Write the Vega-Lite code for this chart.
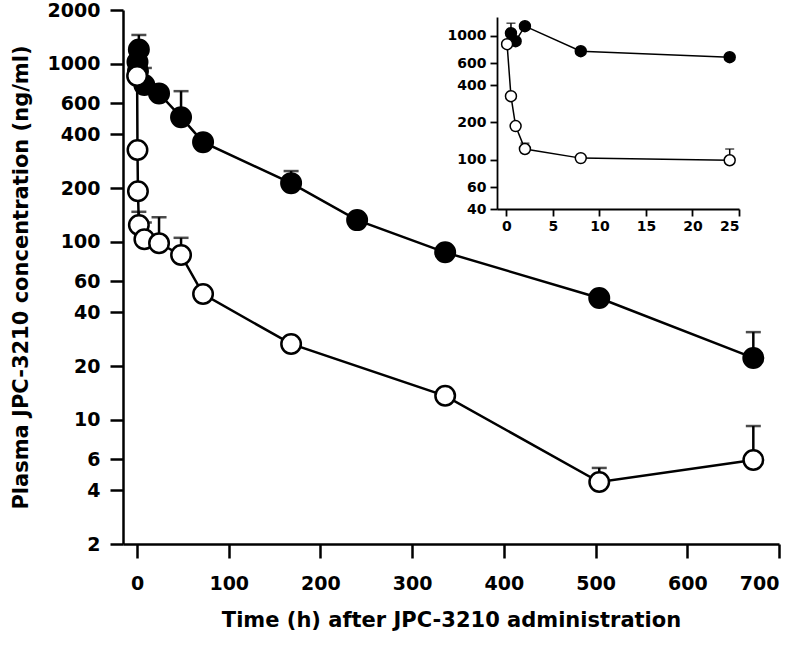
{
  "$schema": "https://vega.github.io/schema/vega-lite/v6.json",
  "width": 656,
  "height": 534,
  "autosize": {"type": "none"},
  "padding": {"left": 123, "top": 10, "right": 21, "bottom": 102},
  "background": "white",
  "config": {
    "view": {"stroke": null},
    "axis": {
      "grid": false,
      "domainColor": "black",
      "tickColor": "black",
      "labelColor": "black",
      "titleColor": "black",
      "labelFont": "DejaVu Sans",
      "titleFont": "DejaVu Sans",
      "labelFontWeight": "bold",
      "titleFontWeight": "bold"
    }
  },
  "datasets": {
    "pk": [
      {"panel": "main", "group": "F", "t": 0.5, "c": 1020, "hi": null},
      {"panel": "main", "group": "F", "t": 1, "c": 906, "hi": null},
      {"panel": "main", "group": "F", "t": 2, "c": 1200, "hi": 1448},
      {"panel": "main", "group": "F", "t": 8, "c": 758, "hi": 945},
      {"panel": "main", "group": "F", "t": 24, "c": 680, "hi": null},
      {"panel": "main", "group": "F", "t": 48, "c": 500, "hi": 700},
      {"panel": "main", "group": "F", "t": 72, "c": 362, "hi": null},
      {"panel": "main", "group": "F", "t": 168, "c": 213, "hi": 249},
      {"panel": "main", "group": "F", "t": 240, "c": 132, "hi": null},
      {"panel": "main", "group": "F", "t": 336, "c": 87, "hi": null},
      {"panel": "main", "group": "F", "t": 504, "c": 48.2, "hi": null},
      {"panel": "main", "group": "F", "t": 672, "c": 22.2, "hi": 31},
      {"panel": "main", "group": "O", "t": 0.083, "c": 852, "hi": null},
      {"panel": "main", "group": "O", "t": 0.5, "c": 327, "hi": null},
      {"panel": "main", "group": "O", "t": 1, "c": 192, "hi": null},
      {"panel": "main", "group": "O", "t": 2, "c": 124, "hi": 147},
      {"panel": "main", "group": "O", "t": 8, "c": 103, "hi": 128},
      {"panel": "main", "group": "O", "t": 24, "c": 98, "hi": 137},
      {"panel": "main", "group": "O", "t": 48, "c": 84, "hi": 105},
      {"panel": "main", "group": "O", "t": 72, "c": 50.7, "hi": null},
      {"panel": "main", "group": "O", "t": 168, "c": 26.6, "hi": null},
      {"panel": "main", "group": "O", "t": 336, "c": 13.6, "hi": null},
      {"panel": "main", "group": "O", "t": 504, "c": 4.46, "hi": 5.35},
      {"panel": "main", "group": "O", "t": 672, "c": 5.93, "hi": 9.2},
      {"panel": "inset", "group": "F", "t": 0.5, "c": 1050, "hi": 1265},
      {"panel": "inset", "group": "F", "t": 1, "c": 906, "hi": null},
      {"panel": "inset", "group": "F", "t": 2, "c": 1197, "hi": null},
      {"panel": "inset", "group": "F", "t": 8, "c": 752, "hi": null},
      {"panel": "inset", "group": "F", "t": 24, "c": 673, "hi": null},
      {"panel": "inset", "group": "O", "t": 0.083, "c": 857, "hi": null},
      {"panel": "inset", "group": "O", "t": 0.5, "c": 326, "hi": null},
      {"panel": "inset", "group": "O", "t": 1, "c": 187, "hi": null},
      {"panel": "inset", "group": "O", "t": 2, "c": 122, "hi": 136},
      {"panel": "inset", "group": "O", "t": 8, "c": 103, "hi": null},
      {"panel": "inset", "group": "O", "t": 24, "c": 99, "hi": 122}
    ]
  },
  "data": {"name": "pk"},
  "layer": [
    {
      "transform": [{"filter": "datum.panel === 'main'"}],
      "encoding": {
        "x": {
          "field": "t", "type": "quantitative",
          "scale": {"domain": [-15.3, 700], "nice": false, "zero": false},
          "axis": {
            "orient": "bottom",
            "values": [0, 100, 200, 300, 400, 500, 600, 700],
            "tickSize": 14, "tickWidth": 2.5, "domainWidth": 2.5,
            "labelFontSize": 19, "labelPadding": 16,
            "title": "Time (h) after JPC-3210 administration",
            "titleFontSize": 21, "titlePadding": 16
          }
        },
        "y": {
          "field": "c", "type": "quantitative",
          "scale": {"type": "log", "domain": [2, 2000], "nice": false},
          "axis": {
            "orient": "left",
            "values": [2, 4, 6, 10, 20, 40, 60, 100, 200, 400, 600, 1000, 2000],
            "format": "d",
            "tickSize": 13, "tickWidth": 2.5, "domainWidth": 2.5,
            "labelFontSize": 19, "labelPadding": 10,
            "title": "Plasma JPC-3210 concentration (ng/ml)",
            "titleFontSize": 21, "titlePadding": 16
          }
        }
      },
      "layer": [
        {
          "transform": [{"filter": "datum.hi != null"}],
          "mark": {"type": "rule", "color": "black", "strokeWidth": 2.5},
          "encoding": {"y2": {"field": "hi"}}
        },
        {
          "transform": [{"filter": "datum.hi != null"}],
          "mark": {"type": "tick", "orient": "horizontal", "color": "black", "size": 15, "thickness": 2.5},
          "encoding": {"y": {"field": "hi", "type": "quantitative"}}
        },
        {
          "mark": {"type": "line", "color": "black", "strokeWidth": 2.5},
          "encoding": {"detail": {"field": "group"}, "order": {"field": "t"}}
        },
        {
          "mark": {"type": "point", "shape": "circle", "filled": true, "stroke": "black", "strokeWidth": 2.5, "size": 380, "opacity": 1},
          "encoding": {
            "fill": {"field": "group", "type": "nominal", "scale": {"domain": ["F", "O"], "range": ["black", "white"]}, "legend": null}
          }
        }
      ]
    },
    {
      "transform": [{"filter": "datum.panel === 'inset'"}],
      "encoding": {
        "x": {
          "field": "t", "type": "quantitative",
          "scale": {"domain": [-1, 25], "nice": false, "zero": false, "range": [374, 616]},
          "axis": {
            "orient": "bottom", "offset": -335,
            "values": [0, 5, 10, 15, 20, 25],
            "tickSize": 7, "tickWidth": 1.8, "domainWidth": 1.8,
            "labelFontSize": 14, "labelPadding": 3, "title": null
          }
        },
        "y": {
          "field": "c", "type": "quantitative",
          "scale": {"type": "log", "domain": [40, 1420], "nice": false, "range": [199, 7]},
          "axis": {
            "orient": "left", "offset": -374,
            "values": [40, 60, 100, 200, 400, 600, 1000],
            "format": "d",
            "tickSize": 7, "tickWidth": 1.8, "domainWidth": 1.8,
            "labelFontSize": 14, "labelPadding": 4, "title": null
          }
        }
      },
      "layer": [
        {
          "transform": [{"filter": "datum.hi != null"}],
          "mark": {"type": "rule", "color": "black", "strokeWidth": 1.5},
          "encoding": {"y2": {"field": "hi"}}
        },
        {
          "transform": [{"filter": "datum.hi != null"}],
          "mark": {"type": "tick", "orient": "horizontal", "color": "black", "size": 9, "thickness": 1.5},
          "encoding": {"y": {"field": "hi", "type": "quantitative"}}
        },
        {
          "mark": {"type": "line", "color": "black", "strokeWidth": 1.5},
          "encoding": {"detail": {"field": "group"}, "order": {"field": "t"}}
        },
        {
          "mark": {"type": "point", "shape": "circle", "filled": true, "stroke": "black", "strokeWidth": 1.5, "size": 120, "opacity": 1},
          "encoding": {
            "fill": {"field": "group", "type": "nominal", "scale": {"domain": ["F", "O"], "range": ["black", "white"]}, "legend": null}
          }
        }
      ]
    }
  ],
  "resolve": {
    "scale": {"x": "independent", "y": "independent", "fill": "independent"},
    "axis": {"x": "independent", "y": "independent"}
  }
}
